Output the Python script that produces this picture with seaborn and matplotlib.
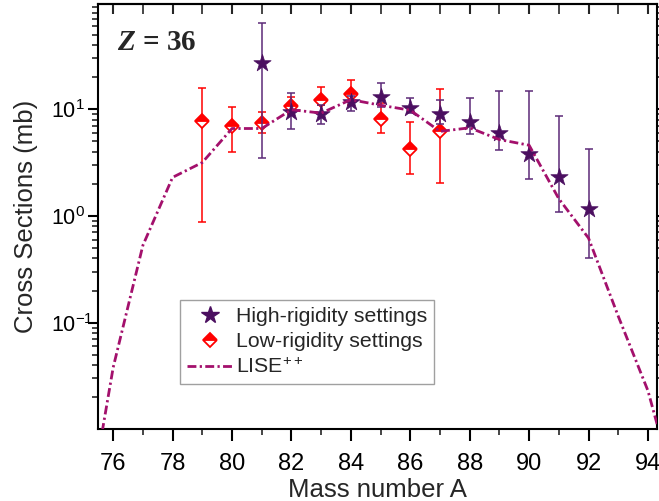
import numpy as np
import matplotlib
matplotlib.use("Agg")
import matplotlib.pyplot as plt
import seaborn as sns
from matplotlib import font_manager
from matplotlib.ticker import MultipleLocator, LogLocator, NullFormatter
from matplotlib.lines import Line2D

# LISE++ calculation (mb)
lise_A = [75, 76, 77, 78, 79, 80, 81, 82, 83, 84, 85, 86, 87, 88, 89, 90, 91, 92, 93, 94, 95]
lise_cs = [0.0009, 0.038, 0.53, 2.3, 3.17, 6.6, 6.6, 9.9, 9.2, 12.3, 10.9, 9.8, 6.2, 6.7,
           5.2, 4.6, 1.45, 0.62, 0.115, 0.023, 0.0022]

# high-rigidity settings
high_A = [81, 82, 83, 84, 85, 86, 87, 88, 89, 90, 91, 92]
high_cs = [27.4, 9.5, 9.0, 11.7, 13.0, 10.2, 9.0, 7.6, 6.0, 3.8, 2.32, 1.15]
high_lo = [3.48, 6.5, 7.3, 9.7, 10.5, 9.2, 7.3, 5.8, 4.15, 2.2, 1.10, 0.40]
high_hi = [63.8, 14.2, 11.0, 13.3, 17.6, 12.7, 12.1, 12.7, 14.8, 14.8, 8.6, 4.23]

# low-rigidity settings
low_A = [79, 80, 81, 82, 83, 84, 85, 86, 87]
low_cs = [7.7, 6.9, 7.5, 10.7, 12.3, 13.8, 8.1, 4.2, 6.2]
low_lo = [0.87, 3.95, 6.0, 9.0, 11.0, 11.0, 5.95, 2.46, 2.04]
low_hi = [15.9, 10.4, 9.4, 12.9, 16.0, 18.8, 11.5, 7.66, 15.4]

purple = "#4b0f60"
purple_bar = "#5c2a78"
red = "#ff0000"
lise_col = "#a3106c"
lise_dash = (0, (3.2, 1.2, 0.8, 1.2))

sns.set_style("ticks")
plt.rcParams['font.family'] = ['Liberation Sans', 'DejaVu Sans']
plt.rcParams['axes.linewidth'] = 1.5
plt.rcParams['axes.unicode_minus'] = False
plt.rcParams['mathtext.fontset'] = 'custom'
plt.rcParams['mathtext.rm'] = 'Liberation Sans'
plt.rcParams['mathtext.it'] = 'Liberation Serif:italic:bold'
plt.rcParams['mathtext.bf'] = 'Liberation Sans:bold'

try:
    font_manager.findfont('Liberation Sans Narrow', fallback_to_default=False)
    tick_font = 'Liberation Sans Narrow'
except Exception:
    tick_font = 'Liberation Sans'

fig = plt.figure(figsize=(6.59, 5.01), dpi=100)
ax = fig.add_axes([0.1483, 0.1445, 0.848, 0.847])
ax.set_yscale('log')

# error bars + markers
high_cs_a = np.array(high_cs)
low_cs_a = np.array(low_cs)
ax.errorbar(low_A, low_cs, yerr=[low_cs_a - np.array(low_lo), np.array(low_hi) - low_cs_a],
            fmt='none', ecolor=red, elinewidth=1.1, capsize=3, capthick=1.1, zorder=2)
ax.plot(low_A, low_cs, linestyle='none', marker='D', ms=7.2, fillstyle='top',
        markerfacecolor=red, markerfacecoloralt='white', markeredgecolor=red,
        markeredgewidth=1.3, zorder=2.5)
ax.errorbar(high_A, high_cs, yerr=[high_cs_a - np.array(high_lo), np.array(high_hi) - high_cs_a],
            fmt='none', ecolor=purple_bar, elinewidth=1.1, capsize=3, capthick=1.1, zorder=3)
sns.scatterplot(x=high_A, y=high_cs, marker='*', s=170, color=purple, edgecolor=purple,
                linewidth=0.5, ax=ax, zorder=3.5)

sns.lineplot(x=lise_A, y=lise_cs, ax=ax, color=lise_col, lw=2, linestyle=lise_dash, zorder=4)

ax.set_xlim(75.48, 94.29)
ax.set_ylim(10 ** -1.993, 10 ** 1.984)

ax.xaxis.set_major_locator(MultipleLocator(2))
ax.xaxis.set_minor_locator(MultipleLocator(1))
ax.yaxis.set_major_locator(LogLocator(base=10))
ax.yaxis.set_minor_locator(LogLocator(base=10, subs=np.arange(2, 10)))
ax.yaxis.set_minor_formatter(NullFormatter())

ax.tick_params(axis='x', which='major', direction='out', length=8.6, width=1.5,
               labelsize=17, labelfontfamily=tick_font, colors='black', pad=9)
ax.tick_params(axis='y', which='major', direction='out', length=7.5, width=1.5,
               labelsize=15.5, labelfontfamily=tick_font, colors='black', pad=26.5)
ax.tick_params(axis='both', which='minor', direction='out', length=4, width=1.2)
ax.tick_params(axis='y', which='both', left=True, right=True)
ax.tick_params(axis='x', which='both', bottom=True, top=False)
for lab in ax.get_yticklabels():
    lab.set_horizontalalignment('left')

top = ax.secondary_xaxis('top')
top.xaxis.set_major_locator(MultipleLocator(2))
top.xaxis.set_minor_locator(MultipleLocator(1))
top.tick_params(which='major', direction='in', length=7, width=1.5, labeltop=False)
top.tick_params(which='minor', direction='in', length=7, width=1.2)

for s in ax.spines.values():
    s.set_linewidth(1.5)
    s.set_color('black')

ax.set_xlabel('Mass number A', fontsize=18.5)
ax.set_ylabel('Cross Sections (mb)', fontsize=18.5)
ax.xaxis.set_label_coords(0.5, -0.117)
ax.yaxis.set_label_coords(-0.107, 0.5)

ax.text(0.034, 0.892, '$Z$ = 36', transform=ax.transAxes, fontsize=21,
        family='Liberation Serif', weight='bold', ha='left', va='baseline')

handles = [
    Line2D([], [], linestyle='none', marker='*', ms=13, color=purple),
    Line2D([], [], linestyle='none', marker='D', ms=7, fillstyle='top',
           markerfacecolor=red, markerfacecoloralt='white', markeredgecolor=red,
           markeredgewidth=1.3),
    Line2D([], [], color=lise_col, lw=2, linestyle=lise_dash),
]
labels = ['High-rigidity settings', 'Low-rigidity settings', 'LISE$^{++}$']
leg = ax.legend(handles, labels, loc='lower left', bbox_to_anchor=(0.147, 0.105),
                borderaxespad=0, fontsize=15.3, frameon=True, fancybox=False,
                edgecolor='#a0a0a0', framealpha=1, handlelength=2.2,
                handletextpad=0.1, labelspacing=0.3, borderpad=0.32)
leg.get_frame().set_linewidth(1.0)

fig.savefig('out.png', dpi=100)
